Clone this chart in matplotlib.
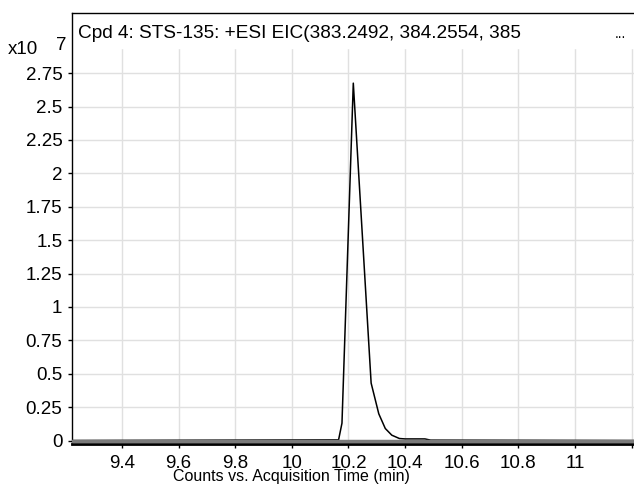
import matplotlib
matplotlib.use("Agg")
import matplotlib.pyplot as plt
from matplotlib import font_manager

plt.rcParams["font.family"] = ["Liberation Sans", "DejaVu Sans"]

# EIC trace, counts in units of 1e7
times = [9.223, 10.165, 10.177, 10.217, 10.280, 10.307, 10.330, 10.353,
         10.380, 10.400, 10.470, 10.490, 11.209]
counts = [0.0, 0.005, 0.13, 2.675, 0.43, 0.20, 0.09, 0.04,
          0.015, 0.012, 0.012, 0.003, 0.0]

x_ticks = [9.4, 9.6, 9.8, 10.0, 10.2, 10.4, 10.6, 10.8, 11.0, 11.2]
x_labels = ["9.4", "9.6", "9.8", "10", "10.2", "10.4", "10.6", "10.8", "11", ""]
y_ticks = [0, 0.25, 0.5, 0.75, 1, 1.25, 1.5, 1.75, 2, 2.25, 2.5, 2.75]
y_labels = ["0", "0.25", "0.5", "0.75", "1", "1.25", "1.5", "1.75", "2",
            "2.25", "2.5", "2.75"]

title = "Cpd 4: STS-135: +ESI EIC(383.2492, 384.2554, 385"
xlabel = "Counts vs. Acquisition Time (min)"

# pick a condensed face for the axis caption if one is there
names = {f.name for f in font_manager.fontManager.ttflist}
narrow = [n for n in ["Liberation Sans Narrow", "DejaVu Sans Condensed"] if n in names]
cap_family = narrow[0] if narrow else "Liberation Sans"
cap_size = 12.5 if cap_family == "Liberation Sans Narrow" else 11.5

W, H = 634, 484
fig = plt.figure(figsize=(W / 100, H / 100), dpi=100)
ax = fig.add_axes([72 / W, 40 / H, (W - 72) / W, 431 / H])

ax.set_xlim(9.2234, 11.2085)
ax.set_ylim(-0.026, 3.2)

ax.set_axisbelow(True)
ax.grid(True, color="#e0e0e0", linewidth=1)
# title box hides the grid at the top
ax.axhspan(2.94, 3.2, color="white", zorder=1)

ax.plot(times, counts, color="black", linewidth=1.1, zorder=2)
ax.axhline(0, color="#7a7a7a", linewidth=2.5, zorder=3)

ax.set_xticks(x_ticks)
ax.set_xticklabels(x_labels)
ax.set_yticks(y_ticks)
ax.set_yticklabels(y_labels)
ax.tick_params(axis="both", direction="out", length=3, width=1,
               labelsize=13.5, color="black")
ax.tick_params(axis="x", pad=5)
ax.tick_params(axis="y", pad=4)

ax.spines["right"].set_visible(False)
ax.spines["bottom"].set_linewidth(2)
ax.spines["left"].set_linewidth(1)
ax.spines["top"].set_linewidth(1)

fig.text(78 / W, 1 - 38 / H, title, fontsize=13.7, ha="left", va="baseline")
fig.text(615 / W, 1 - 38 / H, "...", fontsize=10, ha="left", va="baseline")
fig.text(8 / W, 1 - 54 / H, "x10", fontsize=13.5, ha="left", va="baseline")
fig.text(56 / W, 1 - 50 / H, "7", fontsize=13.5, ha="left", va="baseline")
fig.text(291 / W, 1 - 481 / H, xlabel, fontsize=cap_size, ha="center",
         va="baseline", family=cap_family)

fig.savefig("out.png", dpi=100)
